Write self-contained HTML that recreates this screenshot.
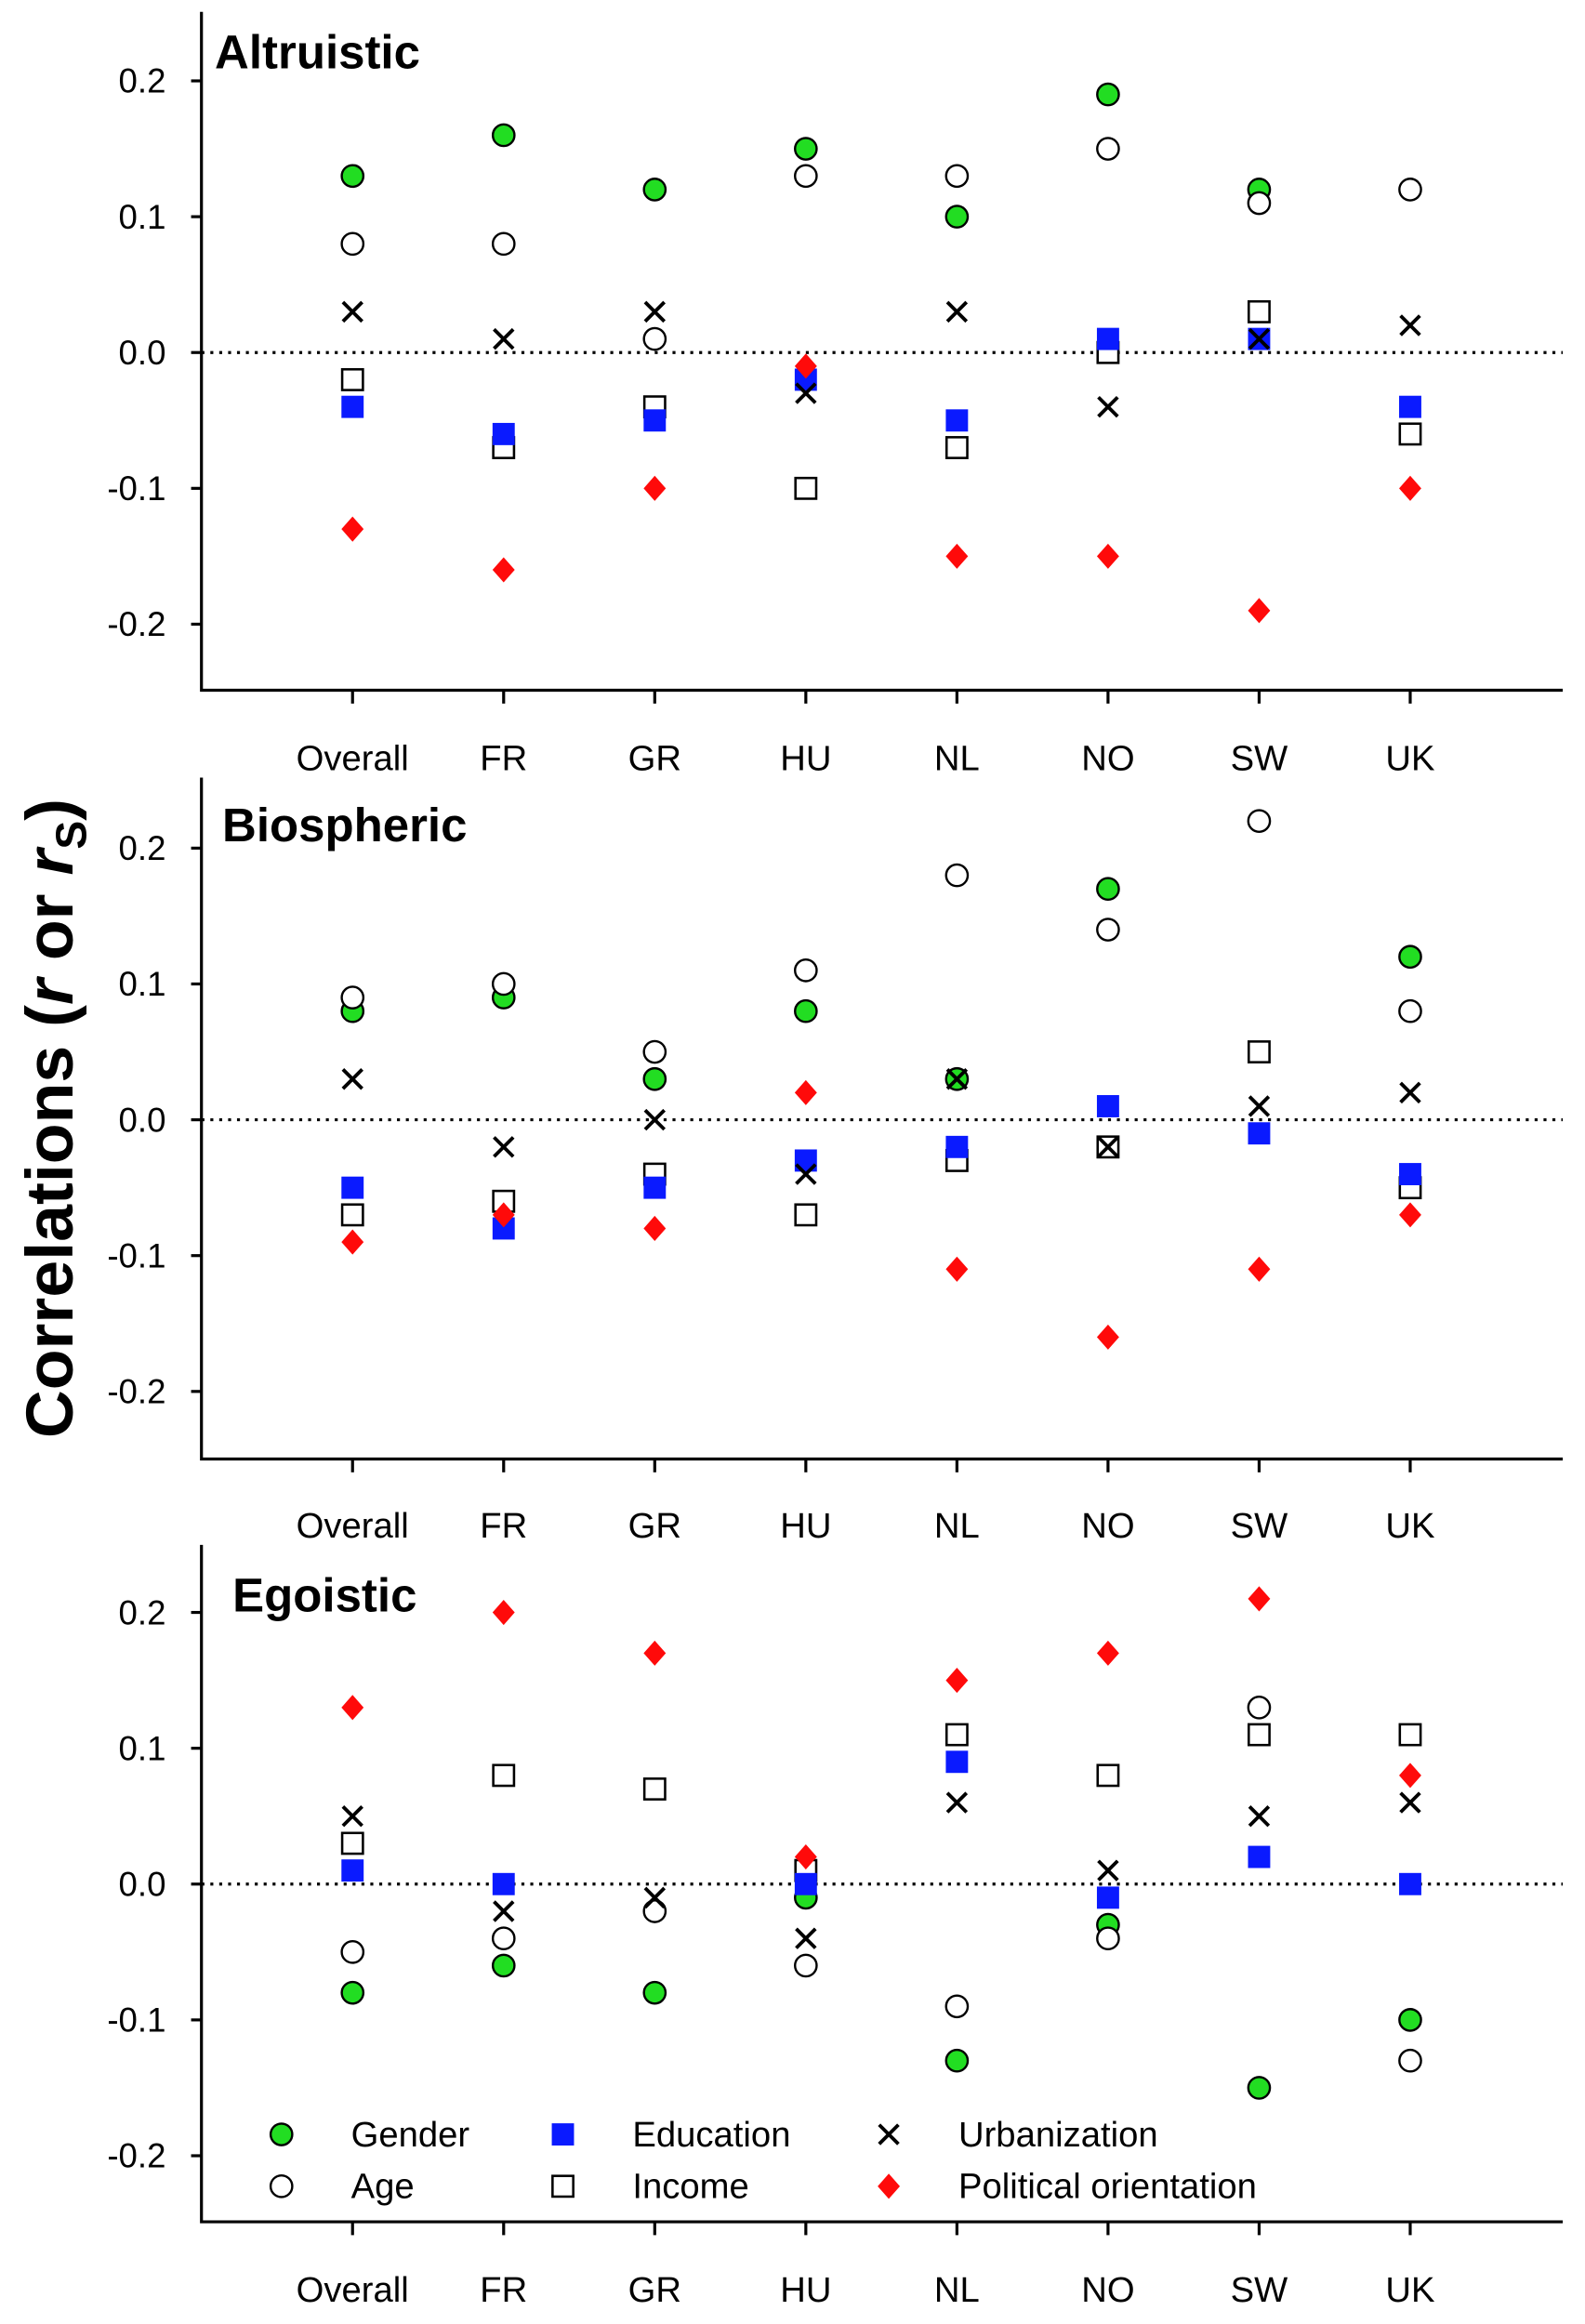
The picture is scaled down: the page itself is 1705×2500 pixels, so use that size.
<!DOCTYPE html>
<html><head><meta charset="utf-8"><style>
html,body{margin:0;padding:0;background:#fff}
svg{display:block}
text{font-family:"Liberation Sans",sans-serif}
</style></head><body>
<svg id="chart" width="1705" height="2500" viewBox="0 0 1070 1569" preserveAspectRatio="none" xmlns="http://www.w3.org/2000/svg">
<text transform="translate(49,755) rotate(-90)" text-anchor="middle" font-size="45" font-weight="bold">Correlations (<tspan font-style="italic">r</tspan> or <tspan font-style="italic">r</tspan><tspan font-size="29" dy="9">S</tspan><tspan dy="-9">)</tspan></text>
<g id="legend"></g>
</svg>
<script>
const categories = ["Overall","FR","GR","HU","NL","NO","SW","UK"];
const yTicks = [0.2,0.1,0.0,-0.1,-0.2];
const yTickLabels = ["0.2","0.1","0.0","-0.1","-0.2"];
const panelTitles = ["Altruistic","Biospheric","Egoistic"];
const altGender = [0.13,0.16,0.12,0.15,0.10,0.19,0.12,null];
const altAge = [0.08,0.08,0.01,0.13,0.13,0.15,0.11,0.12];
const altIncome = [-0.02,-0.07,-0.04,-0.10,-0.07,0.00,0.03,-0.06];
const altEducation = [-0.04,-0.06,-0.05,-0.02,-0.05,0.01,0.01,-0.04];
const altUrban = [0.03,0.01,0.03,-0.03,0.03,-0.04,0.01,0.02];
const altPolitical = [-0.13,-0.16,-0.10,-0.01,-0.15,-0.15,-0.19,-0.10];
const bioGender = [0.08,0.09,0.03,0.08,0.03,0.17,null,0.12];
const bioAge = [0.09,0.10,0.05,0.11,0.18,0.14,0.22,0.08];
const bioIncome = [-0.07,-0.06,-0.04,-0.07,-0.03,-0.02,0.05,-0.05];
const bioEducation = [-0.05,-0.08,-0.05,-0.03,-0.02,0.01,-0.01,-0.04];
const bioUrban = [0.03,-0.02,0.00,-0.04,0.03,-0.02,0.01,0.02];
const bioPolitical = [-0.09,-0.07,-0.08,0.02,-0.11,-0.16,-0.11,-0.07];
const egoGender = [-0.08,-0.06,-0.08,-0.01,-0.13,-0.03,-0.15,-0.10];
const egoAge = [-0.05,-0.04,-0.02,-0.06,-0.09,-0.04,0.13,-0.13];
const egoIncome = [0.03,0.08,0.07,0.01,0.11,0.08,0.11,0.11];
const egoEducation = [0.01,0.00,null,0.00,0.09,-0.01,0.02,0.00];
const egoUrban = [0.05,-0.02,-0.01,-0.04,0.06,0.01,0.05,0.06];
const egoPolitical = [0.13,0.20,0.17,0.02,0.15,0.17,0.21,0.08];

const panelsData = [
 {gender:altGender,age:altAge,income:altIncome,education:altEducation,urban:altUrban,political:altPolitical},
 {gender:bioGender,age:bioAge,income:bioIncome,education:bioEducation,urban:bioUrban,political:bioPolitical},
 {gender:egoGender,age:egoAge,income:egoIncome,education:egoEducation,urban:egoUrban,political:egoPolitical}
];
const layout = [
 {zero:238, top:8, bottom:466, labelY:520, titleX:145, titleY:46},
 {zero:756, top:525, bottom:985, labelY:1038, titleX:150, titleY:568},
 {zero:1272, top:1043, bottom:1500, labelY:1554, titleX:157, titleY:1088}
];
const NS="http://www.w3.org/2000/svg";
const svg=document.getElementById('chart');
const unit=917;
const xLeft=136, xRight=1055;
function xPos(i){return 238+i*102;}
function mk(tag,attrs,parent){const e=document.createElementNS(NS,tag);for(const k in attrs)e.setAttribute(k,attrs[k]);(parent||svg).appendChild(e);return e;}

function drawMarker(type,cx,cy,g){
  let e;
  if(type==='gender'){e=mk('circle',{cx:cx,cy:cy,r:7.3,fill:'#22dd22',stroke:'#000','stroke-width':1.5},g);}
  else if(type==='age'){e=mk('circle',{cx:cx,cy:cy,r:7.3,fill:'#fff',stroke:'#000','stroke-width':1.5},g);}
  else if(type==='income'){e=mk('rect',{x:cx-7,y:cy-7,width:14,height:14,fill:'#fff',stroke:'#000','stroke-width':1.6},g);}
  else if(type==='education'){e=mk('rect',{x:cx-7.5,y:cy-7.5,width:15,height:15,fill:'#0a1aff'},g);}
  else if(type==='urban'){e=mk('path',{d:`M${cx-6.5},${cy-6.5}L${cx+6.5},${cy+6.5}M${cx-6.5},${cy+6.5}L${cx+6.5},${cy-6.5}`,stroke:'#000','stroke-width':2.4,fill:'none'},g);}
  else {e=mk('path',{d:`M${cx},${cy-8.5}L${cx+7.5},${cy}L${cx},${cy+8.5}L${cx-7.5},${cy}Z`,fill:'#ff0a0a'},g);}
  return e;
}
const order=['gender','age','income','education','urban','political'];
panelsData.forEach((pd,p)=>{
  const L=layout[p];
  const yPos=v=>L.zero - v*unit;
  const g=mk('g',{});
  
  
  const ax=mk('path',{d:`M${xLeft},${L.top}V${L.bottom}H${xRight}`,stroke:'#000','stroke-width':2,fill:'none'},g);
  
  
  const zl=mk('line',{x1:xLeft,x2:xRight,y1:L.zero,y2:L.zero,stroke:'#000','stroke-width':2,'stroke-dasharray':'2,4'},g);
  
  
  yTicks.forEach((t,i)=>{
    mk('line',{x1:xLeft-7,x2:xLeft,y1:yPos(t),y2:yPos(t),stroke:'#000','stroke-width':2},g);
    const tx=mk('text',{x:112,y:yPos(t)+8,'text-anchor':'end','font-size':23},g);
    tx.textContent=yTickLabels[i];
    
    
  });
  categories.forEach((c,i)=>{
    mk('line',{x1:xPos(i),x2:xPos(i),y1:L.bottom,y2:L.bottom+9,stroke:'#000','stroke-width':2},g);
    const tx=mk('text',{x:xPos(i),y:L.labelY,'text-anchor':'middle','font-size':24},g);
    tx.textContent=c;
    
    
  });
  const tt=mk('text',{x:L.titleX,y:L.titleY,'font-size':32,'font-weight':'bold'},g);
  tt.textContent=panelTitles[p];
  
  
  order.forEach(s=>{
    pd[s].forEach((v,i)=>{
      if(v===null)return;
      const m=drawMarker(s,xPos(i),yPos(v),g);
      
      
    });
  });
});
const legendItems=[['gender','Gender',190,1441],['education','Education',380,1441],['urban','Urbanization',600,1441],
 ['age','Age',190,1476],['income','Income',380,1476],['political','Political orientation',600,1476]];
const lg=document.getElementById('legend');
legendItems.forEach(it=>{
  const m=drawMarker(it[0],it[2],it[3],lg);
  
  
  const t=mk('text',{x:it[2]+47,y:it[3]+8,'font-size':24},lg);
  t.textContent=it[1];
  
  
});
</script>
</body></html>
